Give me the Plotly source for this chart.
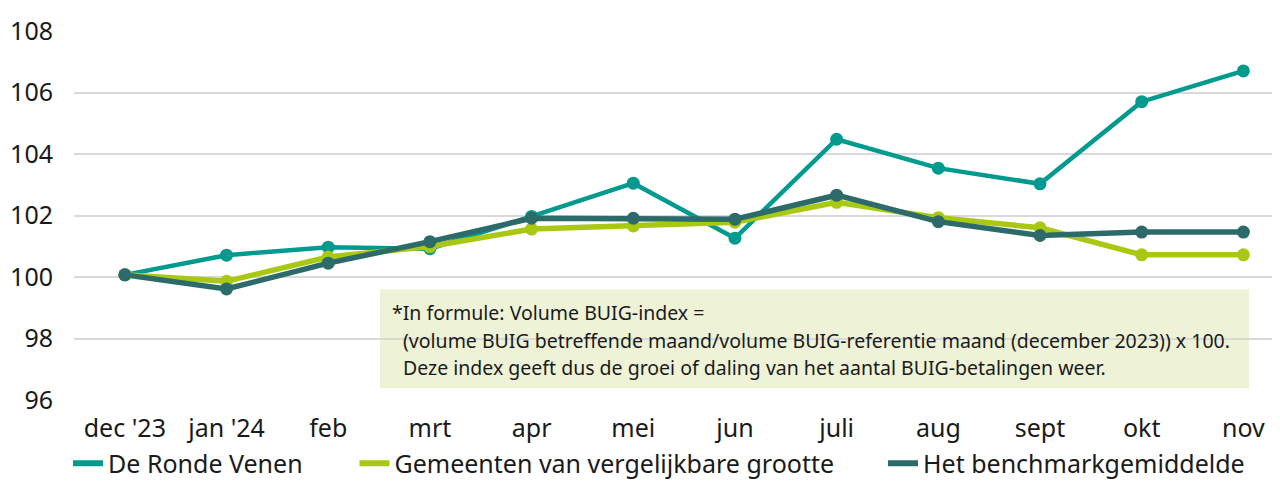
import plotly.graph_objects as go

months = ["dec '23", "jan '24", "feb", "mrt", "apr", "mei", "jun", "juli", "aug", "sept", "okt", "nov"]
ronde_venen = [100.07, 100.71, 100.97, 100.92, 101.97, 103.05, 101.26, 104.48, 103.54, 103.03, 105.70, 106.70]
gemeenten = [100.07, 99.86, 100.65, 100.99, 101.56, 101.66, 101.78, 102.43, 101.93, 101.60, 100.72, 100.72]
benchmark = [100.07, 99.61, 100.45, 101.15, 101.91, 101.91, 101.88, 102.66, 101.80, 101.35, 101.46, 101.46]
y_ticks = [96, 98, 100, 102, 104, 106, 108]
series_names = ["De Ronde Venen", "Gemeenten van vergelijkbare grootte", "Het benchmarkgemiddelde"]
note_lines = [
    "*In formule: Volume BUIG-index =",
    "(volume BUIG betreffende maand/volume BUIG-referentie maand (december 2023)) x 100.",
    "Deze index geeft dus de groei of daling van het aantal BUIG-betalingen weer.",
]

FONT = "Noto Sans"
TEAL = "#009A8F"
GREEN = "#A9C812"
DARK = "#2D6B6A"
TXT = "#1a1a1a"

fig = go.Figure()
series = [(ronde_venen, TEAL, 4.5), (gemeenten, GREEN, 5.5), (benchmark, DARK, 5.5)]
legends = ["legend", "legend2", "legend3"]
for (vals, col, w), name, lg in zip(series, series_names, legends):
    fig.add_trace(go.Scatter(x=months, y=vals, name=name, mode="lines+markers", showlegend=False,
                             line=dict(color=col, width=w), marker=dict(color=col, size=13)))
    # legend-only entry (line symbol without marker)
    fig.add_trace(go.Scatter(x=[None], y=[None], name=name, mode="lines", legend=lg,
                             line=dict(color=col, width=6)))

fig.add_shape(type="rect", xref="paper", yref="y", x0=0.2537, x1=0.9743, y0=96.38, y1=99.60,
              fillcolor="#EEF3D7", line=dict(width=0), layer="below")

note_x = [0.2620, 0.2711, 0.2711]
note_y = [98.86, 97.95, 97.05]
for txt, nx, ny in zip(note_lines, note_x, note_y):
    fig.add_annotation(xref="paper", yref="y", x=nx, y=ny, xanchor="left", yanchor="middle",
                       text=txt, showarrow=False, align="left",
                       font=dict(family=FONT, size=19.5, color=TXT))

leg_common = dict(orientation="h", xanchor="left", xref="container", yref="container",
                  y=0.037, yanchor="middle",
                  font=dict(family=FONT, size=25, color=TXT), bgcolor="rgba(0,0,0,0)")
legend_x = [0.0472, 0.2724, 0.6879]

# page body has a default 8px margin, so the figure is sized to fill the remaining window
fig.update_layout(
    width=1272, height=473, autosize=False,
    margin=dict(l=66, r=0, t=23, b=81),
    plot_bgcolor="white", paper_bgcolor="white",
    font=dict(family=FONT, color=TXT),
    showlegend=True,
    legend=dict(x=legend_x[0], **leg_common),
    legend2=dict(x=legend_x[1], **leg_common),
    legend3=dict(x=legend_x[2], **leg_common),
    xaxis=dict(range=[-0.5, 11.36], showgrid=False, showline=False, ticks="", automargin=False,
               ticklabelstandoff=11,
               tickfont=dict(family=FONT, size=25, color=TXT)),
    yaxis=dict(range=[96, 108], tickvals=y_ticks, showgrid=True, gridcolor="#D9D9D9", gridwidth=1.5,
               zeroline=False, showline=False, ticks="", ticklabelstandoff=20, automargin=False,
               tickfont=dict(family=FONT, size=25, color=TXT)),
)

fig.write_html("out.html")
